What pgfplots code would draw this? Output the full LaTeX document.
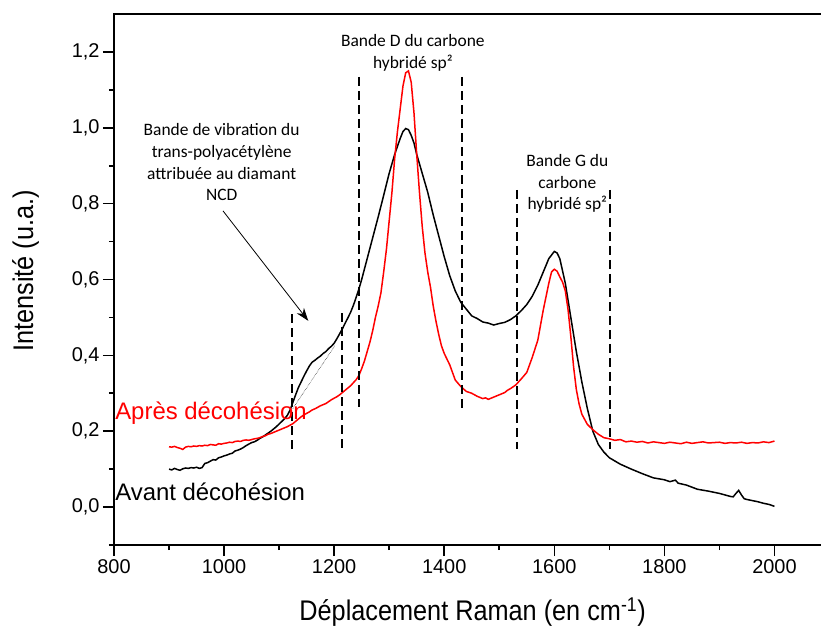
\documentclass[border=0pt]{standalone}
\usepackage{fontspec}
\setmainfont{Liberation Sans}
\newfontfamily\calfont{Carlito}
\newfontfamily\labfont{Liberation Sans}[FakeStretch=0.89]
\usepackage{pgfplots}
\pgfplotsset{compat=1.18}
\usetikzlibrary{arrows.meta}

\pgfplotstableread{
x y
900 0.100
905 0.098
910 0.102
915 0.099
920 0.097
925 0.101
930 0.103
935 0.102
940 0.104
945 0.103
950 0.105
955 0.102
960 0.104
965 0.115
970 0.117
975 0.121
980 0.125
985 0.124
990 0.130
995 0.132
1000 0.135
1005 0.137
1010 0.140
1015 0.142
1020 0.148
1025 0.150
1030 0.153
1035 0.157
1040 0.162
1045 0.166
1050 0.170
1055 0.172
1060 0.176
1065 0.181
1070 0.185
1075 0.190
1080 0.195
1085 0.200
1090 0.206
1095 0.212
1100 0.219
1105 0.226
1110 0.233
1115 0.242
1120 0.256
1125 0.276
1130 0.296
1135 0.315
1140 0.330
1145 0.345
1150 0.359
1155 0.372
1160 0.382
1165 0.387
1170 0.393
1175 0.398
1180 0.405
1185 0.410
1190 0.418
1195 0.424
1200 0.432
1205 0.444
1210 0.457
1215 0.470
1220 0.485
1225 0.499
1230 0.514
1235 0.532
1240 0.553
1245 0.575
1250 0.600
1260 0.655
1270 0.710
1280 0.765
1290 0.822
1300 0.880
1310 0.930
1320 0.972
1325 0.990
1330 0.998
1335 0.995
1340 0.980
1345 0.960
1350 0.930
1360 0.880
1370 0.830
1380 0.770
1390 0.715
1400 0.660
1410 0.610
1420 0.570
1430 0.540
1440 0.522
1450 0.504
1460 0.497
1470 0.488
1480 0.485
1490 0.480
1500 0.484
1510 0.487
1520 0.494
1530 0.504
1540 0.518
1550 0.534
1560 0.556
1570 0.585
1580 0.620
1590 0.655
1600 0.674
1605 0.670
1610 0.655
1620 0.590
1630 0.500
1640 0.410
1650 0.330
1660 0.260
1670 0.200
1680 0.165
1690 0.145
1700 0.130
1720 0.113
1740 0.100
1760 0.088
1780 0.077
1800 0.072
1810 0.067
1820 0.071
1825 0.063
1840 0.058
1860 0.047
1880 0.042
1900 0.036
1920 0.028
1925 0.027
1930 0.036
1935 0.044
1940 0.032
1945 0.022
1950 0.020
1960 0.017
1970 0.014
1980 0.010
1990 0.007
2000 0.002
}\avant

\pgfplotstableread{
x y
900 0.159
905 0.158
910 0.160
915 0.157
920 0.155
925 0.152
930 0.158
935 0.160
940 0.159
945 0.161
950 0.160
955 0.162
960 0.161
965 0.163
970 0.162
975 0.165
980 0.164
985 0.163
990 0.167
995 0.166
1000 0.168
1005 0.169
1010 0.171
1015 0.170
1020 0.173
1025 0.174
1030 0.173
1035 0.176
1040 0.177
1045 0.176
1050 0.178
1055 0.180
1060 0.181
1065 0.183
1070 0.186
1075 0.188
1080 0.192
1085 0.194
1090 0.197
1095 0.200
1100 0.203
1105 0.206
1110 0.209
1115 0.212
1120 0.216
1125 0.220
1130 0.226
1135 0.232
1140 0.238
1145 0.243
1150 0.247
1155 0.251
1160 0.256
1165 0.259
1170 0.263
1175 0.267
1180 0.270
1185 0.273
1190 0.278
1195 0.283
1200 0.287
1205 0.291
1210 0.296
1215 0.302
1220 0.308
1225 0.314
1230 0.320
1235 0.328
1240 0.336
1245 0.347
1250 0.365
1255 0.385
1260 0.410
1265 0.435
1270 0.465
1275 0.500
1280 0.530
1285 0.565
1290 0.620
1295 0.680
1300 0.755
1305 0.830
1310 0.920
1315 0.990
1320 1.050
1325 1.110
1330 1.145
1335 1.150
1340 1.120
1345 1.040
1350 0.930
1355 0.830
1360 0.740
1365 0.670
1370 0.620
1375 0.580
1380 0.530
1385 0.490
1390 0.455
1395 0.425
1400 0.405
1410 0.375
1420 0.335
1430 0.318
1440 0.305
1450 0.300
1460 0.292
1470 0.286
1475 0.288
1480 0.284
1490 0.290
1500 0.296
1510 0.302
1515 0.308
1520 0.312
1530 0.322
1540 0.338
1550 0.355
1560 0.395
1570 0.440
1580 0.520
1590 0.590
1595 0.620
1600 0.627
1605 0.622
1610 0.607
1615 0.593
1620 0.570
1625 0.520
1630 0.450
1635 0.370
1640 0.310
1645 0.272
1650 0.245
1660 0.218
1670 0.204
1680 0.192
1690 0.183
1700 0.180
1710 0.176
1720 0.178
1730 0.172
1740 0.174
1750 0.171
1760 0.173
1770 0.169
1780 0.172
1790 0.170
1800 0.168
1810 0.171
1820 0.169
1830 0.167
1840 0.171
1850 0.168
1860 0.170
1870 0.172
1880 0.169
1890 0.170
1900 0.171
1910 0.168
1920 0.170
1930 0.169
1940 0.171
1950 0.168
1960 0.170
1970 0.169
1980 0.172
1990 0.170
2000 0.174
}\apres

\begin{document}
\begin{tikzpicture}
\begin{axis}[
  scale only axis,
  width=710bp, height=531bp,
  xmin=800, xmax=2090,
  ymin=-0.1, ymax=1.3,
  axis line style={line width=1.6bp},
  every tick/.style={line width=1.6bp, black},
  tick pos=left,
  tick align=outside,
  major tick length=11bp,
  minor tick length=5bp,
  xtick={800,1000,...,2000},
  minor xtick={900,1100,...,1900},
  ytick={0,0.2,...,1.21},
  minor ytick={-0.1,0.1,0.3,0.5,0.7,0.9,1.1},
  /pgf/number format/assume math mode=true,
  ticklabel style={font=\fontsize{20}{24}\selectfont},
  xticklabel style={/pgf/number format/set thousands separator={}},
  yticklabel style={/pgf/number format/.cd, fixed, fixed zerofill, precision=1, use comma},
  xlabel={\labfont\fontsize{28.5}{32}\selectfont Déplacement Raman (en cm\textsuperscript{-1})},
  ylabel={\labfont\fontsize{28.5}{32}\selectfont Intensité (u.a.)},
  xlabel style={at={(axis description cs:0.505,-0.1420)}, anchor=base},
  ylabel style={at={(axis description cs:-0.1139,0.516)}, anchor=base, rotate=0},
  clip=false,
]
\addplot[black, line width=1.5bp] table[x=x,y=y] {\avant};
\addplot[red, line width=1.5bp] table[x=x,y=y] {\apres};

% dashed band delimiters
\addplot[black, line width=2bp, dash pattern=on 9bp off 5bp] coordinates {(1123,0.509) (1123,0.152)};
\addplot[black, line width=2bp, dash pattern=on 9bp off 5bp] coordinates {(1214,0.511) (1214,0.152)};
\addplot[black, line width=2bp, dash pattern=on 9bp off 5bp] coordinates {(1245,1.134) (1245,0.265)};
\addplot[black, line width=2bp, dash pattern=on 9bp off 5bp] coordinates {(1432,1.134) (1432,0.262)};
\addplot[black, line width=2bp, dash pattern=on 9bp off 5bp] coordinates {(1533,0.836) (1533,0.154)};
\addplot[black, line width=2bp, dash pattern=on 9bp off 5bp] coordinates {(1702,0.836) (1702,0.154)};

% thin baseline
\addplot[black, line width=0.5bp, densely dotted] coordinates {(1125,0.26) (1202,0.427)};
% arrow
\addplot[black, line width=0.8bp, -{Stealth[length=13bp,width=9bp]}] coordinates {(998,0.781) (1153,0.491)};

\node[font=\calfont\fontsize{17.5}{21.7}\selectfont, align=center, anchor=center]
  at (axis cs:995.6,0.909) {Bande de vibration du\\trans-polyacétylène\\attribuée au diamant\\NCD};
\node[font=\calfont\fontsize{17.5}{21.7}\selectfont, align=center, anchor=center]
  at (axis cs:1343,1.197) {Bande D du carbone\\hybridé sp²};
\node[font=\calfont\fontsize{17.5}{21.7}\selectfont, align=center, anchor=center]
  at (axis cs:1623.6,0.853) {Bande G du\\carbone\\hybridé sp²};

\node[font=\fontsize{24}{28}\selectfont, text=red, anchor=base west, inner sep=0pt]
  at (axis cs:802,0.231) {Après décohésion};
\node[font=\fontsize{24}{28}\selectfont, text=black, anchor=base west, inner sep=0pt]
  at (axis cs:802,0.0177) {Avant décohésion};
\end{axis}
\pgfresetboundingbox
\path[use as bounding box] (-114bp,-82bp) rectangle (707bp,545bp);
\end{tikzpicture}
\end{document}
